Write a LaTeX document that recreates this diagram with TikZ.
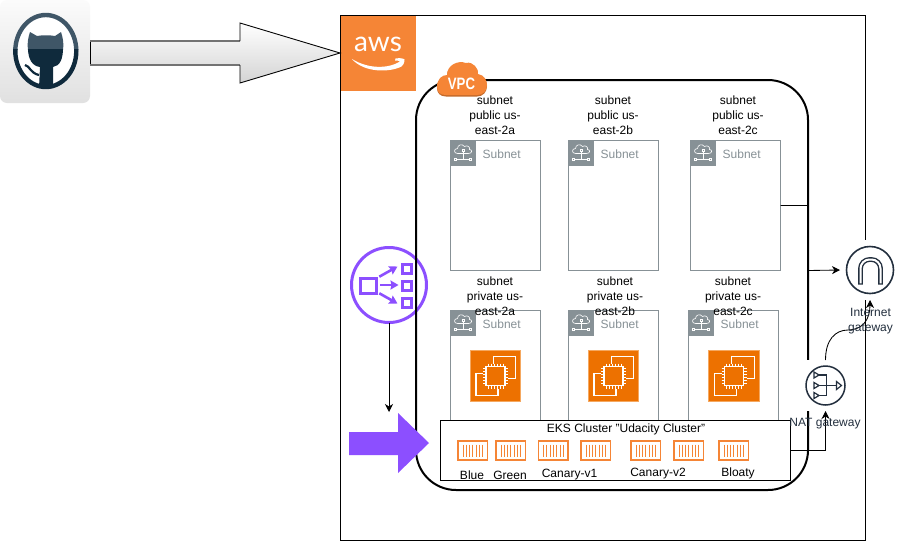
\documentclass[tikz,border=0pt]{standalone}
\usepackage{fontspec}
\setmainfont{Liberation Sans}
\newfontfamily\awsfont{Lato}
\usetikzlibrary{arrows.meta,calc}
\definecolor{awsorange}{HTML}{F58536}
\definecolor{ectwo}{HTML}{ED7100}
\definecolor{ecedge}{HTML}{F5A860}
\definecolor{subgray}{HTML}{879196}
\definecolor{lbpurple}{HTML}{8C4FFF}
\definecolor{awsink}{HTML}{232F3E}
\definecolor{ghlight}{HTML}{3F5667}
\definecolor{ghdark}{HTML}{0F2A3C}
\tikzset{
  x=1pt,y=-1pt,
  lbl/.style={font=\fontsize{12}{15}\selectfont,align=center,inner sep=0pt,text=black},
  inklbl/.style={lbl,text=awsink},
  subnetbox/.style={draw=subgray,line width=.9pt,fill=white,anchor=north west,inner sep=0pt,outer sep=0pt},
  tip/.style={-{Stealth[length=8pt,width=8pt,inset=2.5pt]}},
  conn/.style={draw=black,line width=.85pt,tip},
  gapbox/.style={fill=white,inner sep=0pt,outer sep=0pt},
}
\newcommand{\subnet}[4]{% name, x, y, height
  \node[subnetbox,minimum width=90pt,minimum height=#4pt] (#1) at (#2,#3) {};
  \fill[subgray] (#2,#3) rectangle ++(25,25);
  \begin{scope}[shift={(#2,#3)},draw=white,line width=.6pt]
    \draw (7,13) .. controls (3,13) and (3,8) .. (7,8) .. controls (7,4) and (12,3) .. (14,6)
          .. controls (17,4) and (20,7) .. (19,9) .. controls (22,9) and (22,13) .. (18,13) -- cycle;
    \draw (12.5,10) -- (12.5,19) (6,19) -- (19,19);
    \draw[fill=subgray] (11.5,9) rectangle ++(2,2) (4,18) rectangle ++(2,2) (19,18) rectangle ++(2,2);
  \end{scope}
  \node[lbl,text=subgray,anchor=west] (#1t) at ($(#2,#3)+(32,14)$) {Subnet};
}
\newcommand{\ectwoicon}[2]{%
  \begin{scope}[shift={(#1,#2)}]
    \fill[ectwo,draw=ecedge,line width=.8pt] (0,0) rectangle (50.5,50.5);
    \draw[white,line width=1.2pt] (16,16) rectangle (35,35);
    \draw[white,line width=1.1pt] (23.3,13) -- (23.3,6) -- (45.7,6) -- (45.7,27.7) -- (38,27.7);
    \draw[white,line width=1.1pt] (13,23.3) -- (6,23.3) -- (6,45) -- (28,45) -- (28,38);
    \foreach \t in {18,21,24,27,30,33}{
      \draw[white,line width=.8pt] (\t,13) -- (\t,16) (\t,35) -- (\t,38) (13,\t) -- (16,\t) (35,\t) -- (38,\t);
    }
  \end{scope}
}
\newcommand{\pod}[2]{%
  \begin{scope}[shift={(#1,#2)}]
    \draw[awsorange,line width=1.4pt,fill=white] (0,0) rectangle (29.5,19);
    \foreach \t in {5,8.3,11.6,14.9,18.2,21.5,24.8}{
      \draw[awsorange,line width=1pt] (\t,3.5) -- (\t,15.5);
    }
  \end{scope}
}
\begin{document}
\begin{tikzpicture}
\useasboundingbox (0,0) rectangle (901,541);
\fill[white] (0,0) rectangle (901,541);

% GitHub tile
\node[rounded corners=7pt,inner sep=0pt,outer sep=0pt,minimum width=90pt,minimum height=103pt,anchor=north west,
      top color=white!97!gray,bottom color=black!12] (gh) at (0,0) {};
\fill[white] (45.8,51) ellipse [x radius=30.5,y radius=36];
\begin{scope}
  \clip (0,0) rectangle (90,49);
  \draw[ghlight,line width=4.4pt] (45.8,51) ellipse [x radius=30.5,y radius=36];
  \fill[ghlight] (30,32) -- (37,36) .. controls (42,35) and (50,35) .. (55,36) -- (61,32)
     .. controls (63,38) and (64,44) .. (63,50) -- (28,50) .. controls (27,44) and (28,38) .. (30,32) -- cycle;
\end{scope}
\begin{scope}
  \clip (0,49) rectangle (90,100);
  \draw[ghdark,line width=4.4pt] (45.8,51) ellipse [x radius=30.5,y radius=36];
  \fill[ghdark] (28,48) .. controls (28,59) and (32,66) .. (40,67) -- (39,88) -- (53,88) -- (53,67)
     .. controls (60,66) and (63,59) .. (63,48) -- cycle;
\end{scope}
\draw[ghdark,line width=2.2pt] (25,65) .. controls (30,66) and (30,73) .. (39,75);

% Outer AWS cloud frame
\node[draw=black,line width=.85pt,inner sep=0pt,outer sep=0pt,minimum width=525pt,minimum height=525pt,anchor=north west] (cloud) at (340.5,15.5) {};

% Load balancer
\node[circle,draw=lbpurple,line width=3pt,minimum size=75pt,inner sep=0pt,outer sep=0pt] (lb) at (389,285) {};
\draw[lbpurple,line width=3pt] (360,278) rectangle (376.5,293.5);
\draw[lbpurple,line width=3pt] (402,264) rectangle (411,273.5) (402,281) rectangle (411,290.5) (402,298) rectangle (411,307);
\begin{scope}[lbpurple,line width=2.6pt,-{Stealth[length=8pt,width=9pt,inset=1pt]}]
  \draw (379.3,276.7) -- (397.5,266.5);
  \draw (380,285) -- (398.5,285);
  \draw (379.3,293.3) -- (397.5,303.5);
\end{scope}

% VPC frame
\node[draw=black,line width=2pt,rounded corners=40pt,inner sep=0pt,outer sep=0pt,minimum width=392pt,minimum height=410pt,anchor=north west] (vpc) at (416,80) {};

% Subnets
\subnet{puba}{450.5}{140.5}{130}
\subnet{pubb}{568.5}{140.5}{130}
\subnet{pubc}{690.5}{140.5}{130}
\subnet{pria}{450.5}{310.5}{115}
\subnet{prib}{568.5}{310.5}{115}
\subnet{pric}{688.5}{310.5}{115}
\ectwoicon{470}{350.5}
\ectwoicon{588}{350.5}
\ectwoicon{708.5}{350.5}

\node[lbl] (lpuba) at (495,115.5) {subnet\\public us-\\east-2a};
\node[lbl] (lpubb) at (613,115.5) {subnet\\public us-\\east-2b};
\node[lbl] (lpubc) at (738,115.5) {subnet\\public us-\\east-2c};
\node[lbl] (lpria) at (495,296) {subnet\\private us-\\east-2a};
\node[lbl] (lprib) at (615,296) {subnet\\private us-\\east-2b};
\node[lbl] (lpric) at (733,296) {subnet\\private us-\\east-2c};

% VPC badge
\fill[black!20!awsorange] (437,88) .. controls (437,80) and (442,76) .. (447,76)
   .. controls (447,66) and (458,61) .. (466,64) .. controls (473,62) and (479,70) .. (478,75)
   .. controls (484,76) and (487,81) .. (487,86) .. controls (487,92) and (483,96.5) .. (477,96.5)
   -- (446,96.5) .. controls (440,96.5) and (437,93) .. (437,88) -- cycle;
\fill[awsorange] (437,87) .. controls (437,79) and (442,75) .. (447,75)
   .. controls (447,65) and (458,60) .. (466,63) .. controls (473,61) and (479,69) .. (478,74)
   .. controls (484,75) and (487,80) .. (487,85) .. controls (487,91) and (483,95) .. (477,95)
   -- (446,95) .. controls (440,95) and (437,92) .. (437,87) -- cycle;
\node[inner sep=0pt,text=white,font=\fontsize{16.5}{16.5}\selectfont,xscale=.8] (vpct) at (461.5,84) {\textbf{VPC}};

% AWS badge
\node[fill=awsorange,inner sep=0pt,outer sep=0pt,minimum size=75pt,anchor=north west] (aws) at (340.5,15.5) {};
\node[inner sep=0pt,text=white,font=\awsfont\fontsize{28}{28}\selectfont] (awst) at (378,44) {aws};
\fill[white] (352,59) .. controls (368,69) and (388,69) .. (400,61.5) .. controls (399,60.5) and (397,60.5) .. (395,60.5)
   -- (395.5,58.5) .. controls (399,58) and (403,58) .. (404.5,59.5) .. controls (404.5,63) and (403,65.5) .. (401.5,66.5)
   .. controls (390,72.5) and (364,73) .. (352,59) -- cycle;

% GitHub arrow
\path[top color=white,bottom color=black!17] (90,41) -- (240,41) -- (240,23) -- (340,53) -- (240,83) -- (240,65) -- (90,65) -- cycle;
\draw[black,line width=.9pt] (90.5,41) -- (90.5,65);
\draw[black!55,line width=1.6pt] (90,41) -- (240,41) (90,65) -- (240,65);
\draw[black,line width=.9pt,line join=miter] (240,41) -- (240,23) -- (340,53) -- (240,83) -- (240,65);

% EKS cluster
\node[draw=black,fill=white,line width=.9pt,inner sep=0pt,outer sep=0pt,minimum width=350pt,minimum height=60pt,anchor=north west] (eks) at (440.5,420.5) {};
\node[lbl] (ekst) at (626,429.5) {EKS Cluster "Udacity Cluster"};
\pod{458}{441}
\pod{496}{441}
\pod{538.5}{441}
\pod{581}{441}
\pod{631}{441}
\pod{674}{441}
\pod{719}{441}
\node[lbl] (pblue) at (472,475) {Blue};
\node[lbl] (pgreen) at (510,475) {Green};
\node[lbl] (pcan1) at (569.5,475) {Canary-v1};
\node[lbl] (pcan2) at (658,473.5) {Canary-v2};
\node[lbl] (pbloat) at (738,473.5) {Bloaty};

% Purple block arrow
\fill[lbpurple] (349,432) -- (398,432) -- (398,413) -- (429,443) -- (398,473) -- (398,455) -- (349,455) -- cycle;

% Gateways
\node[gapbox,minimum width=41pt,minimum height=51pt] (nat) at (825.5,385.5) {};
\node[gapbox,minimum width=60pt,minimum height=60pt] (igw) at (870,270) {};

\draw[awsink,line width=1.5pt] (825.5,385.5) circle (19.5);
\begin{scope}[awsink,line width=1.2pt]
  \draw (814,375) -- (826.5,375) (814,385.5) -- (836,385.5) (814,395.5) -- (826.5,395.5) (826.5,375) -- (826.5,395.5);
  \draw[fill=white] (814,372) -- (819,375) -- (814,378) -- cycle;
  \draw[fill=white] (814,382.5) -- (819,385.5) -- (814,388.5) -- cycle;
  \draw[fill=white] (814,392.5) -- (819,395.5) -- (814,398.5) -- cycle;
  \draw[fill=white] (836.5,381.5) -- (841.5,385.5) -- (836.5,389.5) -- cycle;
\end{scope}

\draw[awsink,line width=1.6pt] (870,270) circle (23.5);
\draw[awsink,line width=4.8pt,rounded corners=9pt] (860.5,284.5) -- (860.5,259.5) -- (880.5,259.5) -- (880.5,284.5);
\draw[white,line width=2pt,rounded corners=9pt] (860.5,283.3) -- (860.5,259.5) -- (880.5,259.5) -- (880.5,283.3);

% Connectors
\coordinate (lbend) at (389,412);
\draw[conn] (lb.south) -- (lbend);
\draw[conn] (pubc.east) -- ++(28,0) -- ++(0,65) -- (igw.west);
\draw[conn] (eks.east) -| (nat.south);
\draw[conn] (nat.north) .. controls ++(0,-20) and (835,330) .. (848,330) .. controls (862,330) and (870,320) .. (igw.south);

\node[inklbl] (nattext) at (825,424) {NAT gateway};
\node[inklbl] (igwtext) at (870.5,321) {Internet\\gateway};
\end{tikzpicture}
\end{document}
